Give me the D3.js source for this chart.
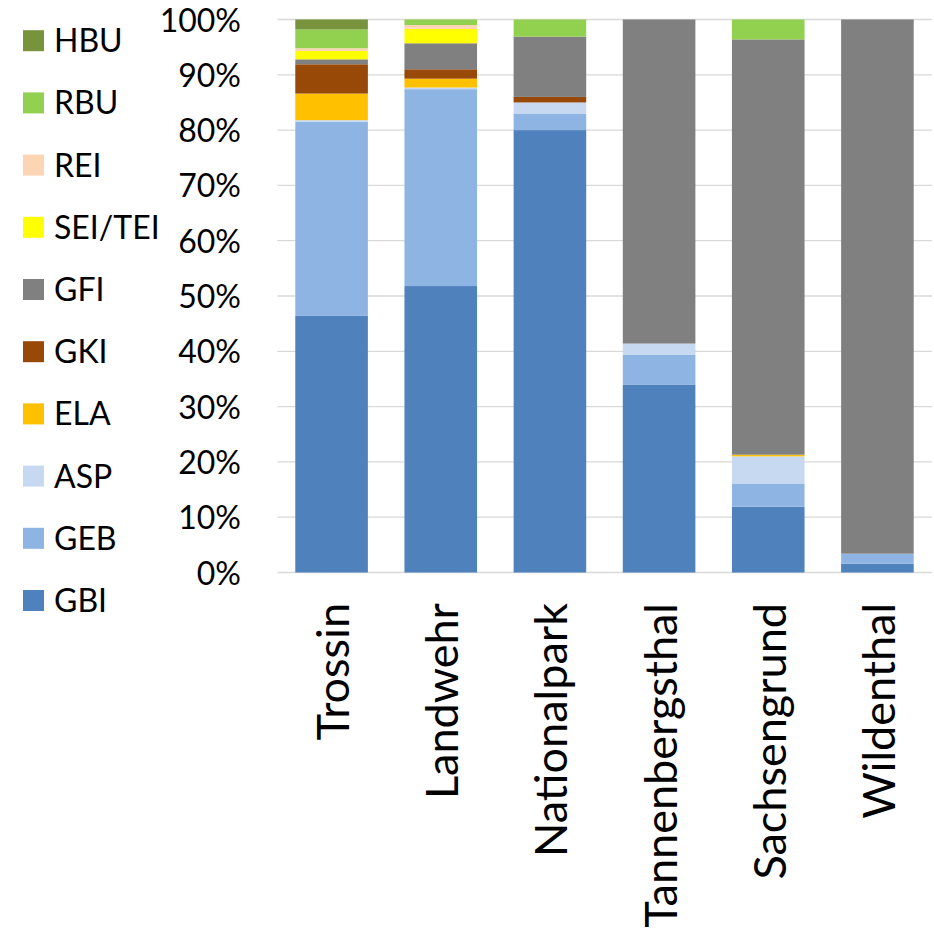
<!DOCTYPE html>
<html>
<head>
<meta charset="utf-8">
<script src="https://cdn.jsdelivr.net/npm/d3@7"></script>
<style>
  html, body { margin: 0; padding: 0; background: #fff; }
  svg { display: block; }
  text { font-family: Lato, "Open Sans", sans-serif; fill: #000; }
</style>
</head>
<body>
<svg id="chart" width="934" height="931"></svg>
<script>
// Sites (x categories)
const categories = ["Trossin", "Landwehr", "Nationalpark", "Tannenbergsthal", "Sachsengrund", "Wildenthal"];

// Share of each tree species per site, in percent (stacked bottom to top)
const GBI     = [46.4, 51.8, 80.0, 34.0, 11.9, 1.6];
const GEB     = [35.1, 35.6,  3.0,  5.4,  4.2, 1.8];
const ASP     = [ 0.3,  0.3,  2.0,  2.0,  4.9, 0.0];
const ELA     = [ 4.8,  1.6,  0.0,  0.0,  0.3, 0.0];
const GKI     = [ 5.3,  1.7,  1.0,  0.0,  0.0, 0.0];
const GFI     = [ 0.9,  4.7, 10.9, 58.6, 75.1, 96.6];
const SEI_TEI = [ 1.5,  2.6,  0.0,  0.0,  0.0, 0.0];
const REI     = [ 0.5,  0.7,  0.0,  0.0,  0.0, 0.0];
const RBU     = [ 3.4,  1.0,  3.1,  0.0,  3.6, 0.0];
const HBU     = [ 1.8,  0.0,  0.0,  0.0,  0.0, 0.0];

const seriesNames  = ["GBI", "GEB", "ASP", "ELA", "GKI", "GFI", "SEI/TEI", "REI", "RBU", "HBU"];
const seriesValues = [GBI, GEB, ASP, ELA, GKI, GFI, SEI_TEI, REI, RBU, HBU];
const seriesColors = ["#4F81BD", "#8EB4E3", "#C6D9F1", "#FFC000", "#984807",
                      "#808080", "#FFFF00", "#FCD5B5", "#92D050", "#77933C"];

const yTicks = [0, 10, 20, 30, 40, 50, 60, 70, 80, 90, 100];

// Build rows for d3.stack
const rows = categories.map((c, i) => {
  const r = { site: c };
  seriesNames.forEach((s, j) => { r[s] = seriesValues[j][i]; });
  return r;
});
const stacked = d3.stack().keys(seriesNames)(rows);

const svg = d3.select("#chart");

const x = d3.scaleBand()
  .domain(categories)
  .range([277, 932])
  .paddingInner(0.335)
  .paddingOuter(0.1675);

const y = d3.scaleLinear()
  .domain([0, 100])
  .range([572.5, 19.5]);

// Horizontal gridlines
svg.append("g")
  .selectAll("line")
  .data(yTicks)
  .join("line")
  .attr("x1", 277.5)
  .attr("x2", 932)
  .attr("y1", d => y(d))
  .attr("y2", d => y(d))
  .attr("stroke", "#d9d9d9")
  .attr("stroke-width", 1.3);

// Y tick labels
svg.append("g")
  .selectAll("text")
  .data(yTicks)
  .join("text")
  .attr("x", 241)
  .attr("y", d => y(d) + 12)
  .attr("text-anchor", "end")
  .attr("font-size", 32)
  .text(d => d + "%");

// Stacked bars
const colorOf = d3.scaleOrdinal().domain(seriesNames).range(seriesColors);
svg.append("g")
  .selectAll("g")
  .data(stacked)
  .join("g")
  .attr("fill", d => colorOf(d.key))
  .selectAll("rect")
  .data(d => d)
  .join("rect")
  .attr("x", d => x(d.data.site))
  .attr("width", x.bandwidth())
  .attr("y", d => y(d[1]))
  .attr("height", d => Math.max(0, y(d[0]) - y(d[1])));

// X category labels, rotated
svg.append("g")
  .selectAll("text")
  .data(categories)
  .join("text")
  .attr("transform", d => `translate(${x(d) + x.bandwidth() / 2 + 17.5},603) rotate(-90)`)
  .attr("text-anchor", "end")
  .attr("font-size", 45)
  .text(d => d);

// Legend (top series first)
const legendItems = seriesNames.map((s, j) => ({ name: s, color: seriesColors[j] })).reverse();
const legend = svg.append("g")
  .selectAll("g")
  .data(legendItems)
  .join("g")
  .attr("transform", (d, i) => `translate(23,${40.7 + i * 62.2})`);
legend.append("rect")
  .attr("x", 0)
  .attr("y", -10.5)
  .attr("width", 21)
  .attr("height", 21)
  .attr("fill", d => d.color);
legend.append("text")
  .attr("x", 31)
  .attr("y", 11.5)
  .attr("font-size", 32)
  .text(d => d.name);
</script>
</body>
</html>
